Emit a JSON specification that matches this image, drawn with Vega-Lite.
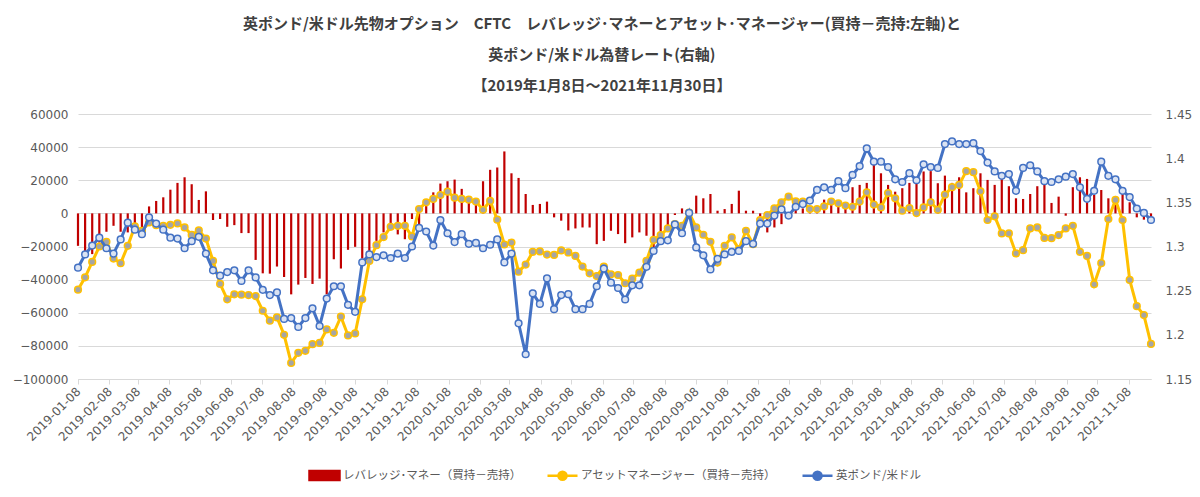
{
"$schema": "https://vega.github.io/schema/vega-lite/v6.json",
"width": 1073,
"height": 265,
"padding": {"left": 12, "right": 8, "top": 17, "bottom": 4},
"background": "white",
"title": {
  "text": ["英ポンド/米ドル先物オプション　CFTC　レバレッジ･マネーとアセット･マネージャー(買持－売持:左軸)と", "英ポンド/米ドル為替レート(右軸)", "【2019年1月8日～2021年11月30日】"],
  "font": "Noto Sans CJK JP", "fontSize": 15, "fontWeight": "bold", "color": "#404040",
  "lineHeight": 31, "anchor": "middle", "frame": "bounds", "offset": 14
},
"config": {"view": {"stroke": null}, "font": "DejaVu Sans",
  "legend": {"title": null, "orient": "bottom", "direction": "horizontal", "labelFont": "Noto Sans CJK JP", "labelFontSize": 11.5,
      "labelColor": "#595959", "labelLimit": 400, "columnPadding": 20, "labelOffset": 2, "symbolSize": 900, "offset": 16,
      "layout": {"bottom": {"anchor": "middle"}}}},
"data": {"values": [
{"d":"2019-01-08","lev":-19600,"am":-46100,"gbp":1.276},
{"d":"2019-01-15","lev":-23200,"am":-38600,"gbp":1.291},
{"d":"2019-01-22","lev":-24600,"am":-29300,"gbp":1.301},
{"d":"2019-01-29","lev":-17600,"am":-20000,"gbp":1.310},
{"d":"2019-02-05","lev":-11100,"am":-17200,"gbp":1.298},
{"d":"2019-02-12","lev":-7500,"am":-27300,"gbp":1.292},
{"d":"2019-02-19","lev":-11100,"am":-30100,"gbp":1.308},
{"d":"2019-02-26","lev":-11500,"am":-19600,"gbp":1.327},
{"d":"2019-03-05","lev":-7900,"am":-7900,"gbp":1.319},
{"d":"2019-03-12","lev":-9900,"am":-10500,"gbp":1.314},
{"d":"2019-03-19","lev":4200,"am":-5500,"gbp":1.333},
{"d":"2019-03-26","lev":7500,"am":-7100,"gbp":1.326},
{"d":"2019-04-02","lev":9700,"am":-7500,"gbp":1.319},
{"d":"2019-04-09","lev":14300,"am":-6900,"gbp":1.310},
{"d":"2019-04-16","lev":18400,"am":-6100,"gbp":1.309},
{"d":"2019-04-23","lev":21800,"am":-8500,"gbp":1.298},
{"d":"2019-04-30","lev":17600,"am":-13000,"gbp":1.306},
{"d":"2019-05-07","lev":8100,"am":-10300,"gbp":1.311},
{"d":"2019-05-14","lev":13300,"am":-15200,"gbp":1.292},
{"d":"2019-05-21","lev":-4000,"am":-28700,"gbp":1.273},
{"d":"2019-05-28","lev":-3400,"am":-42600,"gbp":1.267},
{"d":"2019-06-04","lev":-8100,"am":-51900,"gbp":1.271},
{"d":"2019-06-11","lev":-7100,"am":-48900,"gbp":1.273},
{"d":"2019-06-18","lev":-11900,"am":-49100,"gbp":1.261},
{"d":"2019-06-25","lev":-11900,"am":-49300,"gbp":1.273},
{"d":"2019-07-02","lev":-28100,"am":-49900,"gbp":1.265},
{"d":"2019-07-09","lev":-36200,"am":-58800,"gbp":1.251},
{"d":"2019-07-16","lev":-36400,"am":-64800,"gbp":1.245},
{"d":"2019-07-23","lev":-32100,"am":-62800,"gbp":1.248},
{"d":"2019-07-30","lev":-38400,"am":-73300,"gbp":1.218},
{"d":"2019-08-06","lev":-48900,"am":-90300,"gbp":1.219},
{"d":"2019-08-13","lev":-43000,"am":-84200,"gbp":1.209},
{"d":"2019-08-20","lev":-39000,"am":-83000,"gbp":1.219},
{"d":"2019-08-27","lev":-42600,"am":-79000,"gbp":1.230},
{"d":"2019-09-03","lev":-39400,"am":-78200,"gbp":1.210},
{"d":"2019-09-10","lev":-48900,"am":-70100,"gbp":1.241},
{"d":"2019-09-17","lev":-27700,"am":-72100,"gbp":1.255},
{"d":"2019-09-24","lev":-33300,"am":-62400,"gbp":1.255},
{"d":"2019-10-01","lev":-22000,"am":-73700,"gbp":1.234},
{"d":"2019-10-08","lev":-20200,"am":-72500,"gbp":1.226},
{"d":"2019-10-15","lev":-27300,"am":-51900,"gbp":1.282},
{"d":"2019-10-22","lev":-25700,"am":-28700,"gbp":1.291},
{"d":"2019-10-29","lev":-16600,"am":-19200,"gbp":1.288},
{"d":"2019-11-05","lev":-11500,"am":-14300,"gbp":1.290},
{"d":"2019-11-12","lev":-7100,"am":-8100,"gbp":1.287},
{"d":"2019-11-19","lev":-12700,"am":-7500,"gbp":1.292},
{"d":"2019-11-26","lev":-15600,"am":-7500,"gbp":1.287},
{"d":"2019-12-03","lev":-3400,"am":-13900,"gbp":1.300},
{"d":"2019-12-10","lev":-6500,"am":2600,"gbp":1.321},
{"d":"2019-12-17","lev":6000,"am":6700,"gbp":1.317},
{"d":"2019-12-24","lev":12700,"am":8700,"gbp":1.301},
{"d":"2019-12-31","lev":18000,"am":11100,"gbp":1.330},
{"d":"2020-01-07","lev":19400,"am":13100,"gbp":1.315},
{"d":"2020-01-14","lev":20400,"am":9500,"gbp":1.305},
{"d":"2020-01-21","lev":14800,"am":8700,"gbp":1.314},
{"d":"2020-01-28","lev":9700,"am":8300,"gbp":1.303},
{"d":"2020-02-04","lev":5700,"am":7100,"gbp":1.304},
{"d":"2020-02-11","lev":19400,"am":2200,"gbp":1.298},
{"d":"2020-02-18","lev":26300,"am":7500,"gbp":1.302},
{"d":"2020-02-25","lev":27700,"am":-3800,"gbp":1.308},
{"d":"2020-03-03","lev":37400,"am":-18800,"gbp":1.282},
{"d":"2020-03-10","lev":24200,"am":-17600,"gbp":1.292},
{"d":"2020-03-17","lev":21400,"am":-35200,"gbp":1.213},
{"d":"2020-03-24","lev":11700,"am":-30900,"gbp":1.178},
{"d":"2020-03-31","lev":5100,"am":-23200,"gbp":1.247},
{"d":"2020-04-07","lev":5700,"am":-23000,"gbp":1.235},
{"d":"2020-04-14","lev":7100,"am":-24900,"gbp":1.264},
{"d":"2020-04-21","lev":-2400,"am":-25100,"gbp":1.229},
{"d":"2020-04-28","lev":-4400,"am":-22400,"gbp":1.245},
{"d":"2020-05-05","lev":-10300,"am":-23600,"gbp":1.246},
{"d":"2020-05-12","lev":-9100,"am":-25700,"gbp":1.229},
{"d":"2020-05-19","lev":-8500,"am":-32100,"gbp":1.229},
{"d":"2020-05-26","lev":-8500,"am":-36200,"gbp":1.235},
{"d":"2020-06-02","lev":-18600,"am":-37800,"gbp":1.255},
{"d":"2020-06-09","lev":-16600,"am":-32100,"gbp":1.275},
{"d":"2020-06-16","lev":-10500,"am":-36800,"gbp":1.259},
{"d":"2020-06-23","lev":-12500,"am":-37200,"gbp":1.253},
{"d":"2020-06-30","lev":-18000,"am":-42200,"gbp":1.240},
{"d":"2020-07-07","lev":-14500,"am":-39400,"gbp":1.256},
{"d":"2020-07-14","lev":-11500,"am":-35800,"gbp":1.256},
{"d":"2020-07-21","lev":-13500,"am":-28700,"gbp":1.277},
{"d":"2020-07-28","lev":-24000,"am":-16000,"gbp":1.295},
{"d":"2020-08-04","lev":-13500,"am":-13100,"gbp":1.306},
{"d":"2020-08-11","lev":-7500,"am":-9100,"gbp":1.307},
{"d":"2020-08-18","lev":-1000,"am":-6500,"gbp":1.325},
{"d":"2020-08-25","lev":3000,"am":-7500,"gbp":1.315},
{"d":"2020-09-01","lev":2600,"am":400,"gbp":1.338},
{"d":"2020-09-08","lev":10700,"am":-8500,"gbp":1.299},
{"d":"2020-09-15","lev":9100,"am":-12900,"gbp":1.290},
{"d":"2020-09-22","lev":11700,"am":-17200,"gbp":1.274},
{"d":"2020-09-29","lev":1600,"am":-29700,"gbp":1.286},
{"d":"2020-10-06","lev":2600,"am":-19600,"gbp":1.291},
{"d":"2020-10-13","lev":5700,"am":-14500,"gbp":1.294},
{"d":"2020-10-20","lev":13700,"am":-21600,"gbp":1.295},
{"d":"2020-10-27","lev":1600,"am":-10500,"gbp":1.306},
{"d":"2020-11-03","lev":1600,"am":-18600,"gbp":1.303},
{"d":"2020-11-10","lev":-2000,"am":-4000,"gbp":1.326},
{"d":"2020-11-17","lev":-11500,"am":-1000,"gbp":1.326},
{"d":"2020-11-24","lev":-8500,"am":3000,"gbp":1.335},
{"d":"2020-12-01","lev":-6500,"am":6700,"gbp":1.342},
{"d":"2020-12-08","lev":-3400,"am":10100,"gbp":1.335},
{"d":"2020-12-15","lev":2600,"am":7300,"gbp":1.345},
{"d":"2020-12-22","lev":3000,"am":7100,"gbp":1.348},
{"d":"2020-12-29","lev":2600,"am":2600,"gbp":1.352},
{"d":"2021-01-05","lev":3000,"am":2600,"gbp":1.364},
{"d":"2021-01-12","lev":8300,"am":4200,"gbp":1.367},
{"d":"2021-01-19","lev":5700,"am":7100,"gbp":1.364},
{"d":"2021-01-26","lev":5100,"am":6100,"gbp":1.374},
{"d":"2021-02-02","lev":4700,"am":4700,"gbp":1.366},
{"d":"2021-02-09","lev":15800,"am":4000,"gbp":1.381},
{"d":"2021-02-16","lev":17200,"am":7100,"gbp":1.391},
{"d":"2021-02-23","lev":18400,"am":12700,"gbp":1.411},
{"d":"2021-03-02","lev":29300,"am":5300,"gbp":1.396},
{"d":"2021-03-09","lev":24200,"am":3600,"gbp":1.396},
{"d":"2021-03-16","lev":17200,"am":12300,"gbp":1.390},
{"d":"2021-03-23","lev":13100,"am":9100,"gbp":1.376},
{"d":"2021-03-30","lev":15200,"am":1600,"gbp":1.373},
{"d":"2021-04-06","lev":18400,"am":3200,"gbp":1.383},
{"d":"2021-04-13","lev":17800,"am":200,"gbp":1.375},
{"d":"2021-04-20","lev":25300,"am":3600,"gbp":1.393},
{"d":"2021-04-27","lev":25500,"am":6700,"gbp":1.390},
{"d":"2021-05-04","lev":18200,"am":2200,"gbp":1.389},
{"d":"2021-05-11","lev":22800,"am":11300,"gbp":1.416},
{"d":"2021-05-18","lev":18400,"am":15800,"gbp":1.419},
{"d":"2021-05-25","lev":21800,"am":17200,"gbp":1.416},
{"d":"2021-06-01","lev":12700,"am":25500,"gbp":1.416},
{"d":"2021-06-08","lev":15200,"am":24900,"gbp":1.417},
{"d":"2021-06-15","lev":24200,"am":13300,"gbp":1.408},
{"d":"2021-06-22","lev":20200,"am":-4000,"gbp":1.395},
{"d":"2021-06-29","lev":17200,"am":-1800,"gbp":1.385},
{"d":"2021-07-06","lev":20800,"am":-12100,"gbp":1.380},
{"d":"2021-07-13","lev":16400,"am":-12100,"gbp":1.382},
{"d":"2021-07-20","lev":9100,"am":-24200,"gbp":1.363},
{"d":"2021-07-27","lev":8700,"am":-22200,"gbp":1.389},
{"d":"2021-08-03","lev":11700,"am":-9100,"gbp":1.392},
{"d":"2021-08-10","lev":16400,"am":-8500,"gbp":1.385},
{"d":"2021-08-17","lev":17200,"am":-14800,"gbp":1.374},
{"d":"2021-08-24","lev":6300,"am":-15000,"gbp":1.373},
{"d":"2021-08-31","lev":10100,"am":-13100,"gbp":1.376},
{"d":"2021-09-07","lev":-1400,"am":-9100,"gbp":1.379},
{"d":"2021-09-14","lev":15800,"am":-7500,"gbp":1.382},
{"d":"2021-09-21","lev":21800,"am":-23200,"gbp":1.367},
{"d":"2021-09-28","lev":20800,"am":-25700,"gbp":1.354},
{"d":"2021-10-05","lev":11100,"am":-42800,"gbp":1.363},
{"d":"2021-10-12","lev":14100,"am":-30100,"gbp":1.396},
{"d":"2021-10-19","lev":9100,"am":-3400,"gbp":1.380},
{"d":"2021-10-26","lev":9100,"am":8100,"gbp":1.376},
{"d":"2021-11-02","lev":15800,"am":-4000,"gbp":1.363},
{"d":"2021-11-09","lev":6700,"am":-40200,"gbp":1.356},
{"d":"2021-11-16","lev":-2400,"am":-56000,"gbp":1.343},
{"d":"2021-11-23","lev":-3800,"am":-61400,"gbp":1.338},
{"d":"2021-11-30","lev":-2000,"am":-78800,"gbp":1.330}
]},
"encoding": {
  "x": {"field": "d", "type": "temporal",
    "scale": {"type": "utc", "nice": false, "padding": 0,
      "domain": [{"year": 2019, "month": 1, "date": 8, "utc": true}, {"year": 2021, "month": 11, "date": 30, "utc": true}]},
    "axis": {"title": null, "format": "%Y-%m-%d", "labelAngle": -45, "labelAlign": "right", "labelBaseline": "middle",
      "labelFontSize": 12, "labelColor": "#595959", "labelPadding": 5, "labelOverlap": false, "labelFlush": false,
      "grid": false, "domain": true, "domainColor": "#d9d9d9", "ticks": true, "tickColor": "#d9d9d9", "tickSize": 5,
      "values": [
        {"year":2019,"month":1,"date":8,"utc":true},{"year":2019,"month":2,"date":8,"utc":true},{"year":2019,"month":3,"date":8,"utc":true},
        {"year":2019,"month":4,"date":8,"utc":true},{"year":2019,"month":5,"date":8,"utc":true},{"year":2019,"month":6,"date":8,"utc":true},
        {"year":2019,"month":7,"date":8,"utc":true},{"year":2019,"month":8,"date":8,"utc":true},{"year":2019,"month":9,"date":8,"utc":true},
        {"year":2019,"month":10,"date":8,"utc":true},{"year":2019,"month":11,"date":8,"utc":true},{"year":2019,"month":12,"date":8,"utc":true},
        {"year":2020,"month":1,"date":8,"utc":true},{"year":2020,"month":2,"date":8,"utc":true},{"year":2020,"month":3,"date":8,"utc":true},
        {"year":2020,"month":4,"date":8,"utc":true},{"year":2020,"month":5,"date":8,"utc":true},{"year":2020,"month":6,"date":8,"utc":true},
        {"year":2020,"month":7,"date":8,"utc":true},{"year":2020,"month":8,"date":8,"utc":true},{"year":2020,"month":9,"date":8,"utc":true},
        {"year":2020,"month":10,"date":8,"utc":true},{"year":2020,"month":11,"date":8,"utc":true},{"year":2020,"month":12,"date":8,"utc":true},
        {"year":2021,"month":1,"date":8,"utc":true},{"year":2021,"month":2,"date":8,"utc":true},{"year":2021,"month":3,"date":8,"utc":true},
        {"year":2021,"month":4,"date":8,"utc":true},{"year":2021,"month":5,"date":8,"utc":true},{"year":2021,"month":6,"date":8,"utc":true},
        {"year":2021,"month":7,"date":8,"utc":true},{"year":2021,"month":8,"date":8,"utc":true},{"year":2021,"month":9,"date":8,"utc":true},
        {"year":2021,"month":10,"date":8,"utc":true},{"year":2021,"month":11,"date":8,"utc":true}
      ]}
  }
},
"layer": [
  {
    "encoding": {
      "y": {"type": "quantitative", "scale": {"domain": [-100000, 60000], "nice": false, "zero": false},
        "axis": {"title": null, "orient": "left", "format": "d", "values": [-100000,-80000,-60000,-40000,-20000,0,20000,40000,60000],
          "grid": true, "gridColor": "#d9d9d9", "gridWidth": 1, "domain": false, "ticks": false,
          "labelFontSize": 12, "labelColor": "#595959", "labelPadding": 10}}
    },
    "layer": [
      {"mark": {"type": "bar", "size": 2.2},
        "encoding": {"y": {"field": "lev"},
          "color": {"datum": "レバレッジ･マネー（買持－売持）", "type": "nominal",
            "scale": {"domain": ["レバレッジ･マネー（買持－売持）", "アセットマネージャー（買持－売持）", "英ポンド/米ドル"], "range": ["#c00000", "#ffc000", "#4472c4"]},
            "legend": {
              "encode": {"symbols": {
                "update": {
                  "shape": {"signal": "datum.value === 'レバレッジ･マネー（買持－売持）' ? 'M-1,-0.3H1V0.3H-1Z' : 'M-1,0H-0.27A0.27,0.27 0 1,1 0.27,0H1M0.27,0A0.27,0.27 0 1,1 -0.27,0'"},
                  "fill": {"signal": "datum.value === 'レバレッジ･マネー（買持－売持）' ? '#c00000' : (datum.value === 'アセットマネージャー（買持－売持）' ? '#a5a5a5' : '#dae3f3')"},
                  "stroke": {"signal": "datum.value === 'レバレッジ･マネー（買持－売持）' ? '#c00000' : (datum.value === 'アセットマネージャー（買持－売持）' ? '#ffc000' : '#4472c4')"},
                  "strokeWidth": {"value": 2.5},
                  "opacity": {"value": 1}
                },
                "shape": {"value": {"expr": "datum.value === 'レバレッジ･マネー（買持－売持）' ? 'M-1,-0.3H1V0.3H-1Z' : 'M-1,0H-0.27A0.27,0.27 0 1,1 0.27,0H1M0.27,0A0.27,0.27 0 1,1 -0.27,0'"}},
                "fill": {"value": {"expr": "datum.value === 'レバレッジ･マネー（買持－売持）' ? '#c00000' : (datum.value === 'アセットマネージャー（買持－売持）' ? '#a5a5a5' : '#dae3f3')"}},
                "stroke": {"value": {"expr": "datum.value === 'レバレッジ･マネー（買持－売持）' ? '#c00000' : (datum.value === 'アセットマネージャー（買持－売持）' ? '#ffc000' : '#4472c4')"}},
                "strokeWidth": {"value": 2.5},
                "opacity": {"value": 1}
              }}}}}},
      {"mark": {"type": "line", "strokeWidth": 3},
        "encoding": {"y": {"field": "am"}, "color": {"datum": "アセットマネージャー（買持－売持）", "type": "nominal"}}},
      {"mark": {"type": "point", "filled": true, "fill": "#a5a5a5", "stroke": "#ffc000", "strokeWidth": 1.5, "size": 45, "opacity": 1},
        "encoding": {"y": {"field": "am"}}}
    ]
  },
  {
    "encoding": {
      "y": {"type": "quantitative", "scale": {"domain": [1.15, 1.45], "nice": false, "zero": false},
        "axis": {"title": null, "orient": "right", "format": "~g", "values": [1.15, 1.2, 1.25, 1.3, 1.35, 1.4, 1.45],
          "grid": false, "domain": false, "ticks": false, "labelFontSize": 12, "labelColor": "#595959", "labelPadding": 14}}
    },
    "layer": [
      {"mark": {"type": "line", "strokeWidth": 3},
        "encoding": {"y": {"field": "gbp"}, "color": {"datum": "英ポンド/米ドル", "type": "nominal"}}},
      {"mark": {"type": "point", "filled": true, "fill": "#dae3f3", "stroke": "#4472c4", "strokeWidth": 1.5, "size": 45, "opacity": 1},
        "encoding": {"y": {"field": "gbp"}}}
    ]
  }
],
"resolve": {"scale": {"y": "independent"}}
}
